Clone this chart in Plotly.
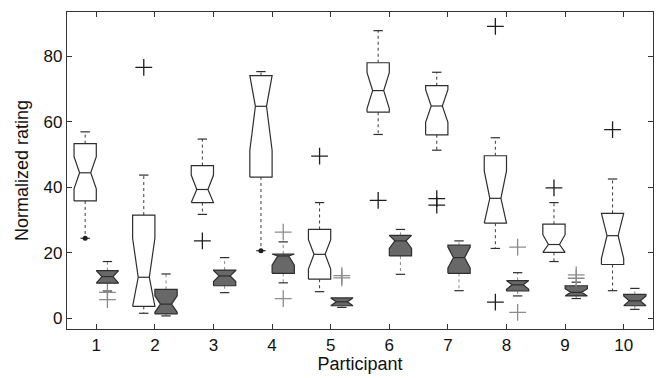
import plotly.graph_objects as go

participants = [1, 2, 3, 4, 5, 6, 7, 8, 9, 10]
tick_y = [0, 20, 40, 60, 80]

# Group A (white boxes)
a_low = [24.4, 1.5, 31.7, 20.6, 8.1, 56.1, 51.3, 21.3, 17.3, 8.4]
a_q1 = [35.8, 3.6, 35.3, 43.1, 11.9, 62.9, 56.0, 29.0, 20.1, 16.4]
a_med = [44.4, 12.5, 39.3, 64.7, 19.5, 69.5, 64.8, 36.6, 22.5, 25.2]
a_q3 = [53.3, 31.5, 46.6, 74.1, 27.1, 78.0, 71.0, 49.6, 28.7, 32.0]
a_high = [56.9, 43.7, 54.7, 75.3, 35.3, 87.8, 75.1, 55.1, 35.3, 42.5]
a_notch = [4.9, 11.9, 4.4, 13.4, 4.5, 5.5, 5.0, 8.4, 3.0, 7.0]
a_out_x = [2, 3, 5, 6, 7, 7, 8, 8, 9, 10]
a_out_y = [76.6, 23.6, 49.5, 36.0, 36.5, 34.5, 89.1, 4.9, 39.8, 57.6]
a_dot_x = [1, 4]
a_dot_y = [24.4, 20.6]

# Group B (grey boxes)
b_low = [8.3, 0.7, 7.8, 10.8, 3.3, 13.4, 8.4, 6.8, 6.0, 2.7]
b_q1 = [10.7, 1.3, 9.9, 13.7, 3.8, 19.0, 13.7, 8.3, 6.8, 3.8]
b_med = [12.7, 4.3, 12.9, 19.0, 5.0, 23.6, 18.5, 10.2, 7.9, 5.3]
b_q3 = [14.5, 8.8, 14.7, 19.6, 6.2, 25.3, 22.3, 11.5, 9.9, 7.3]
b_high = [17.3, 13.5, 18.5, 23.3, 6.2, 27.1, 23.6, 13.9, 11.0, 9.1]
b_notch = [2.0, 2.5, 1.7, 2.8, 1.2, 2.3, 3.2, 1.4, 1.1, 1.5]
b_out_x = [1, 1, 4, 4, 5, 5, 8, 8, 9, 9]
b_out_y = [7.9, 5.7, 26.3, 6.0, 13.0, 12.3, 21.7, 1.8, 13.2, 12.2]

BOX_W = 0.38
OFFSET = 0.19
CAP_HW = 0.08
EDGE = "#2e2e2e"

fig = go.Figure()


def add_group(off, low, q1, med, q3, high, notch, fill, whisk_color):
    poly_x, poly_y = [], []
    med_x, med_y = [], []
    wx, wy = [], []
    cx, cy = [], []
    for p, lo, a, m, b, hi, n in zip(participants, low, q1, med, q3, high, notch):
        c = p + off
        x0, x1 = c - BOX_W / 2, c + BOX_W / 2
        xm0, xm1 = c - BOX_W / 4, c + BOX_W / 4
        nlo = max(m - n, a)
        nhi = min(m + n, b)
        poly_x += [x0, x1, x1, xm1, x1, x1, x0, x0, xm0, x0, x0, None]
        poly_y += [a, a, nlo, m, nhi, b, b, nhi, m, nlo, a, None]
        med_x += [xm0, xm1, None]
        med_y += [m, m, None]
        if hi > b:
            wx += [c, c, None]
            wy += [b, hi, None]
            cx += [c - CAP_HW, c + CAP_HW, None]
            cy += [hi, hi, None]
        if lo < a:
            wx += [c, c, None]
            wy += [a, lo, None]
            cx += [c - CAP_HW, c + CAP_HW, None]
            cy += [lo, lo, None]
    fig.add_trace(go.Scatter(x=wx, y=wy, mode="lines", hoverinfo="skip",
                             line=dict(color=whisk_color, width=1, dash="dot"), showlegend=False))
    fig.add_trace(go.Scatter(x=cx, y=cy, mode="lines", hoverinfo="skip",
                             line=dict(color=EDGE, width=1.2), showlegend=False))
    fig.add_trace(go.Scatter(x=poly_x, y=poly_y, mode="lines", fill="toself", fillcolor=fill,
                             line=dict(color=EDGE, width=1.2), showlegend=False))
    fig.add_trace(go.Scatter(x=med_x, y=med_y, mode="lines", hoverinfo="skip",
                             line=dict(color=EDGE, width=1.2), showlegend=False))


add_group(-OFFSET, a_low, a_q1, a_med, a_q3, a_high, a_notch, "white", "#3a3a3a")
add_group(OFFSET, b_low, b_q1, b_med, b_q3, b_high, b_notch, "#686868", "#8a8a8a")

fig.add_trace(go.Scatter(x=[p - OFFSET for p in a_out_x], y=a_out_y, mode="markers",
                         marker=dict(symbol="cross-thin", size=12, line=dict(color="#1e1e1e", width=1.3)),
                         showlegend=False))
fig.add_trace(go.Scatter(x=[p + OFFSET for p in b_out_x], y=b_out_y, mode="markers",
                         marker=dict(symbol="cross-thin", size=12, line=dict(color="#8c8c8c", width=1.3)),
                         showlegend=False))
fig.add_trace(go.Scatter(x=[p - OFFSET for p in a_dot_x], y=a_dot_y, mode="markers",
                         marker=dict(symbol="circle", size=5, color="#1e1e1e"), showlegend=False))

font_family = "Liberation Sans, Arial, sans-serif"
axis_common = dict(
    showgrid=False, zeroline=False, showline=True, linecolor="#333333", linewidth=1.2,
    ticks="inside", ticklen=5, tickwidth=1, tickcolor="#333333", mirror="ticks",
    tickfont=dict(family=font_family, size=17, color="#111111"),
)

fig.update_layout(
    width=659, height=378,
    margin=dict(l=67, r=6, t=12, b=49),
    paper_bgcolor="white", plot_bgcolor="white",
    font=dict(family=font_family, color="#111111"),
    xaxis=dict(axis_common, range=[0.5, 10.5], tickvals=participants,
               ticktext=[str(p) for p in participants],
               title=dict(text="Participant", font=dict(size=18), standoff=2)),
    yaxis=dict(axis_common, range=[-3.3, 93.5], tickvals=tick_y,
               ticktext=[str(t) for t in tick_y],
               title=dict(text="Normalized rating", font=dict(size=18), standoff=10)),
)

fig.write_html("out.html", config={"displayModeBar": False},
               post_script="document.body.style.margin='0';document.body.style.overflow='hidden';")
